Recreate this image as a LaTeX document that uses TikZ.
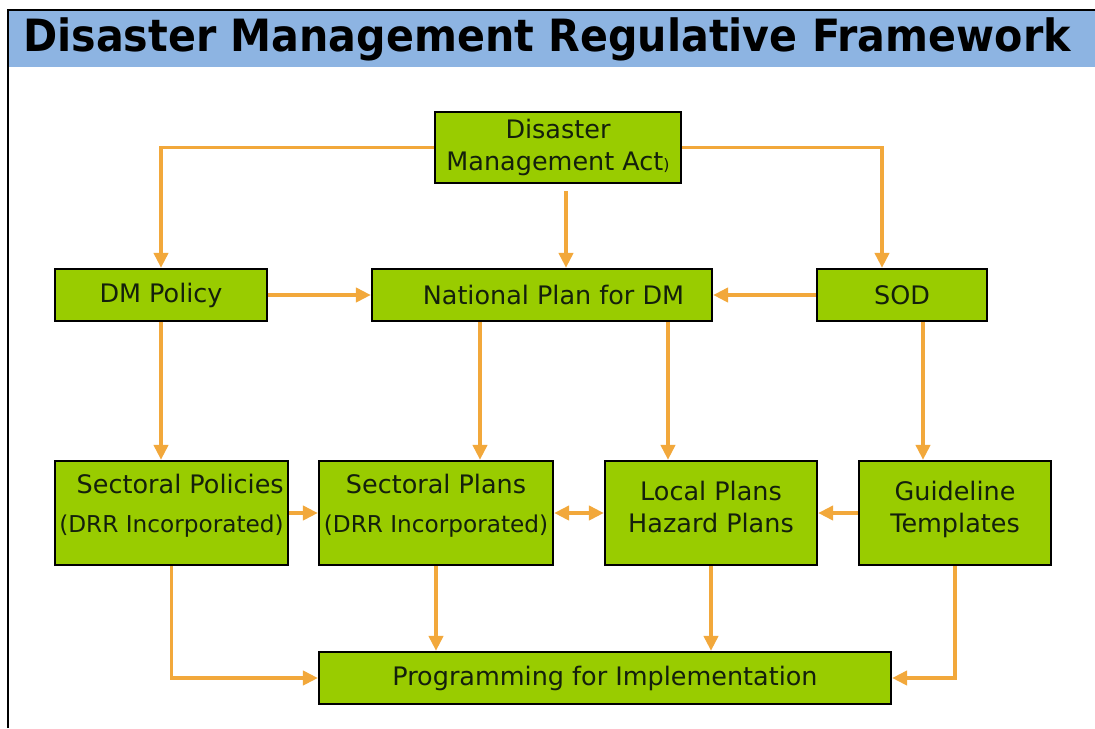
\documentclass[tikz,border=0pt]{standalone}
\usepackage{fontspec}
\setmainfont{DejaVu Sans}
\usetikzlibrary{arrows.meta,calc}

\definecolor{boxgreen}{HTML}{99CC00}
\definecolor{flow}{HTML}{F2A83B}
\definecolor{band}{HTML}{8DB4E2}
\definecolor{ink}{HTML}{14200C}

\begin{document}
\begin{tikzpicture}[x=0.02cm,y=-0.02cm,>={Triangle[length=8.5pt,width=8pt]},
    box/.style={draw=black,line width=1.3pt,fill=boxgreen,text=ink,inner sep=0pt,
        align=center,font=\fontsize{14.5}{18}\selectfont},
    arr/.style={->,draw=flow,line width=2.1pt}]
        \useasboundingbox (0,0) rectangle (1095,728);
        % heading band and frame
        \fill [band] (8,10) rectangle (1095,67);
        \draw [line width=.6pt] (8,728) -- (8,10) -- (1095,10);
        \node [transform shape,xscale=1.02,yscale=1.1] (title) at (547,39)
            {\fontsize{23}{26}\selectfont\bfseries Disaster Management Regulative Framework};

        \node [box,minimum width=4.92cm,minimum height=1.42cm] (act) at (558,147.5)
            {Disaster\\Management Act{\fontsize{9}{9}\selectfont)}};
        \node [box,minimum width=4.24cm,minimum height=1.04cm] (dmpol) at (161,295) {DM Policy};
        \node [box,minimum width=6.80cm,minimum height=1.04cm] (natplan) at (542,295)
            {\hspace*{.9em}National Plan for DM};
        \node [box,minimum width=3.40cm,minimum height=1.04cm] (sod) at (902,295) {SOD};
        \node [box,align=right,text depth=11pt,minimum width=4.66cm,minimum height=2.08cm] (secpol) at (171.5,513)
            {Sectoral Policies\\[4pt]{\fontsize{13.2}{15}\selectfont (DRR Incorporated)}};
        \node [box,text depth=11pt,minimum width=4.68cm,minimum height=2.08cm] (secplan) at (436,513)
            {Sectoral Plans\\[4pt]{\fontsize{13.2}{15}\selectfont (DRR Incorporated)}};
        \node [box,text depth=7pt,minimum width=4.24cm,minimum height=2.08cm] (local) at (711,513)
            {Local Plans\\Hazard Plans};
        \node [box,text depth=7pt,minimum width=3.84cm,minimum height=2.08cm] (guide) at (955,513)
            {Guideline\\Templates};
        \node [box,minimum width=11.44cm,minimum height=1.04cm] (prog) at (605,678)
            {Programming for Implementation};

        \coordinate (a1) at ($(act.south)+(8,7)$);
        \coordinate (n1) at ($(natplan.south)+(-62,0)$);
        \coordinate (n2) at ($(natplan.south)+(126,0)$);
        \coordinate (s1) at ($(sod.south)+(21,0)$);

        \draw [arr] (act.west) -| (dmpol.north);
        \draw [arr] (a1) -- (a1 |- natplan.north);
        \draw [arr] (act.east) -| ($(sod.north)+(-20,0)$);
        \draw [arr] (dmpol) -- (natplan);
        \draw [arr] (sod) -- (natplan);
        \draw [arr] (dmpol.south) -- (dmpol.south |- secpol.north);
        \draw [arr] (n1) -- (n1 |- secplan.north);
        \draw [arr] (n2) -- (n2 |- local.north);
        \draw [arr] (s1) -- (s1 |- guide.north);
        \draw [arr] (secpol) -- (secplan);
        \draw [arr,<->] (secplan) -- (local);
        \draw [arr] (guide) -- (local);
        \draw [arr] (secpol.south) |- (prog.west);
        \draw [arr] (secplan.south) -- (secplan.south |- prog.north);
        \draw [arr] (local.south) -- (local.south |- prog.north);
        \draw [arr] (guide.south) |- (prog.east);
    \end{tikzpicture}
\end{document}
